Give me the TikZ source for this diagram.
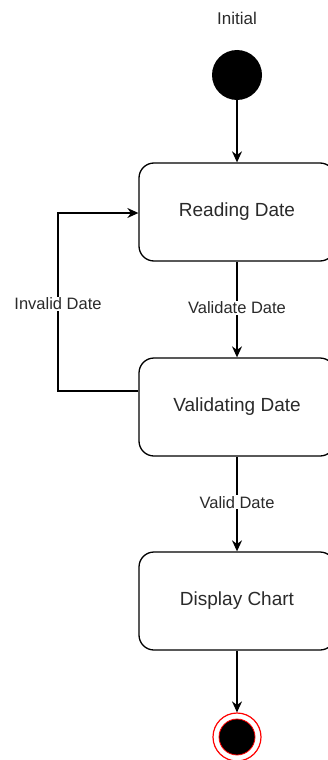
\documentclass[tikz,border=0pt]{standalone}
\usepackage{fontspec}
\setmainfont{Liberation Sans}
\usepackage{xcolor}
\usetikzlibrary{calc}
\usetikzlibrary{arrows.meta}
\definecolor{inkgray}{HTML}{2A2A2A}
\tikzset{
	state/.style={
			draw=black, line width=1.3pt, rounded corners=15pt, fill=white,
			minimum width=196pt, minimum height=98pt, text=inkgray,
			font=\fontsize{19}{22}\selectfont
		},
	trans/.style={draw=black, line width=1.3pt, -{Stealth[length=11pt,width=10pt]}},
	guard/.style={fill=white, text=inkgray, inner sep=1pt, font=\fontsize{16.5}{20}\selectfont}
}

\begin{document}
\begin{tikzpicture}[x=1pt, y=-1pt]
			\useasboundingbox (0,0) rectangle (328,760);
			\clip (0,0) rectangle (328,760);
			% start and end
			\node[text=inkgray, font=\fontsize{17}{20}\selectfont] (title) at (237,18) {Initial};
			\node[circle, fill=black, minimum size=50pt, inner sep=0pt] (init) at (237,75) {};
			\node[circle, draw=red, line width=1.2pt, fill=white, minimum size=48pt, inner sep=0pt] (final) at (237,737) {};
			\node[circle, draw=red, line width=0.8pt, fill=black, minimum size=36pt, inner sep=0pt] (finalin) at (237,737) {};

			% states
			\node[state] (read) at (237,212) {Reading Date};
			\node[state] (check) at (237,407) {Validating Date};
			\node[state] (show) at (237,601) {Display Chart};
			\coordinate (loopb) at (58,391);
			\coordinate (loopt) at (58,213);

			% transitions
			\draw[trans] (init) -- (read);
			\draw[trans] (read) -- node[guard, pos=0.48] {Validate Date} (check);
			\draw[trans] (check) -- node[guard, pos=0.48] {Valid Date} (show);
			\draw[trans] (show) -- (final);
			\draw[trans] (check.west |- loopb) -- (loopb) -- node[guard, pos=0.49] {Invalid Date} (loopt) -- (read.west |- loopt);
		\end{tikzpicture}
\end{document}
